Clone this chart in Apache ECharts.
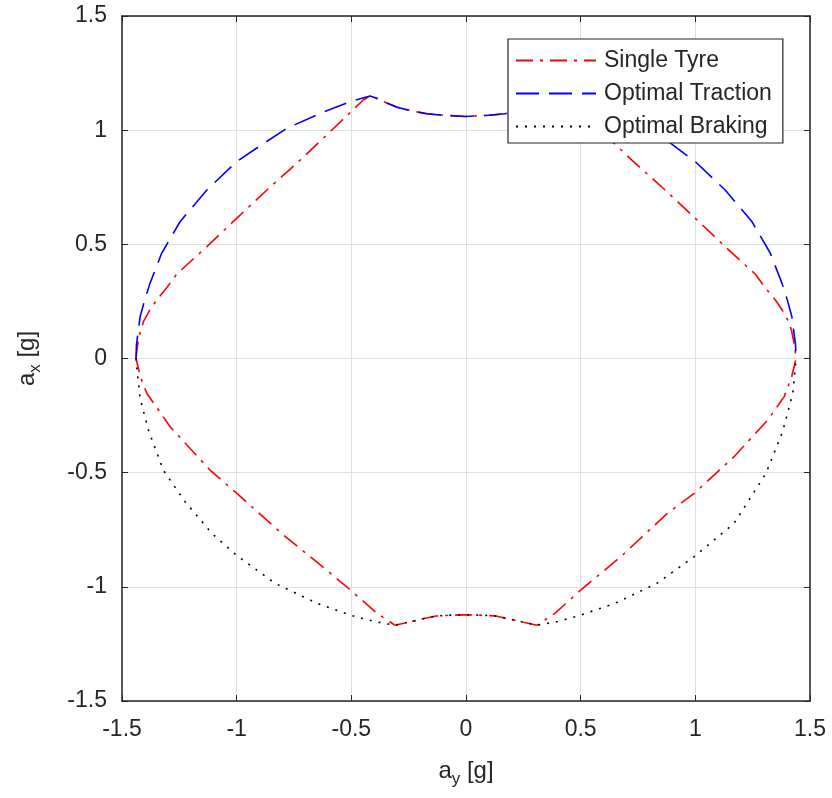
<!DOCTYPE html>
<html>
<head>
<meta charset="utf-8">
<script src="https://cdn.jsdelivr.net/npm/echarts@6/dist/echarts.min.js"></script>
<style>
html,body{margin:0;padding:0;background:#fff;}
#chart{width:832px;height:798px;}
</style>
</head>
<body>
<div id="chart"></div>
<script>
// ---- data (a_y, a_x) in g ----
const seriesNames = ['Single Tyre', 'Optimal Traction', 'Optimal Braking'];

const singleTyre = [
  [-1.439, 0], [-1.432, 0.06], [-1.420, 0.12], [-1.405, 0.165], [-1.380, 0.21], [-1.349, 0.256],
  [-1.305, 0.31], [-1.261, 0.37], [-1.130, 0.49], [-1.000, 0.614], [-0.868, 0.738],
  [-0.723, 0.869], [-0.580, 1.005], [-0.448, 1.132], [-0.418, 1.150],
  [-0.39, 1.14], [-0.36, 1.125], [-0.30, 1.10], [-0.24, 1.085], [-0.17, 1.072], [-0.10, 1.065], [0, 1.06],
  [0.10, 1.065], [0.17, 1.072], [0.24, 1.085], [0.30, 1.10], [0.36, 1.125], [0.39, 1.14],
  [0.418, 1.150], [0.448, 1.132], [0.580, 1.005], [0.723, 0.869], [0.868, 0.738],
  [1.000, 0.614], [1.130, 0.49], [1.261, 0.37], [1.305, 0.31], [1.349, 0.256], [1.380, 0.21],
  [1.405, 0.165], [1.420, 0.12], [1.432, 0.06], [1.439, 0],
  [1.420, -0.08], [1.387, -0.168], [1.315, -0.270], [1.169, -0.430], [0.995, -0.591],
  [0.878, -0.678], [0.675, -0.868], [0.500, -1.014], [0.388, -1.116], [0.31, -1.168],
  [0.25, -1.155], [0.194, -1.142], [0.13, -1.128], [0.068, -1.124], [0, -1.123],
  [-0.068, -1.124], [-0.13, -1.128], [-0.199, -1.142], [-0.25, -1.155], [-0.31, -1.168],
  [-0.388, -1.116], [-0.504, -1.014], [-0.607, -0.927], [-0.796, -0.773], [-0.999, -0.591],
  [-1.116, -0.489], [-1.290, -0.299], [-1.392, -0.152], [-1.420, -0.08], [-1.439, 0]
];

const optimalTraction = [
  [-1.439, 0], [-1.437, 0.06], [-1.421, 0.183], [-1.400, 0.26], [-1.378, 0.329],
  [-1.327, 0.461], [-1.247, 0.599], [-1.130, 0.738], [-1.000, 0.862], [-0.900, 0.93],
  [-0.781, 1.008], [-0.635, 1.074], [-0.504, 1.125], [-0.418, 1.150],
  [-0.39, 1.14], [-0.36, 1.125], [-0.30, 1.10], [-0.24, 1.085], [-0.17, 1.072], [-0.10, 1.065], [0, 1.06],
  [0.10, 1.065], [0.17, 1.072], [0.24, 1.085], [0.30, 1.10], [0.36, 1.125], [0.39, 1.14],
  [0.418, 1.150], [0.504, 1.125], [0.635, 1.074], [0.781, 1.008], [0.893, 0.942],
  [1.000, 0.862], [1.130, 0.738], [1.247, 0.599], [1.327, 0.461], [1.378, 0.329],
  [1.400, 0.26], [1.421, 0.183], [1.437, 0.06], [1.439, 0]
];

const optimalBraking = [
  [-1.439, 0], [-1.436, -0.036], [-1.421, -0.174], [-1.385, -0.313], [-1.320, -0.489],
  [-1.225, -0.627], [-1.108, -0.766], [-0.999, -0.863], [-0.832, -0.985], [-0.650, -1.072],
  [-0.504, -1.124], [-0.40, -1.152], [-0.31, -1.168],
  [-0.25, -1.155], [-0.199, -1.142], [-0.13, -1.128], [-0.068, -1.124], [0, -1.123],
  [0.068, -1.124], [0.13, -1.128], [0.194, -1.142], [0.25, -1.155], [0.31, -1.168],
  [0.40, -1.152], [0.500, -1.124], [0.650, -1.072], [0.832, -0.985], [0.995, -0.868],
  [1.169, -0.722], [1.308, -0.503], [1.381, -0.319], [1.425, -0.152], [1.436, -0.036], [1.439, 0]
];

const axisMin = -1.5, axisMax = 1.5, axisStep = 0.5;

// ---- chart ----
const FONT = '"Liberation Sans", Arial, Helvetica, sans-serif';
const TXT = '#262626';
const chart = echarts.init(document.getElementById('chart'), null, {renderer: 'canvas'});

function valAxis(extra) {
  return Object.assign({
    type: 'value', min: axisMin, max: axisMax, interval: axisStep,
    axisLine: {show: true, onZero: false, lineStyle: {color: TXT, width: 1.5}},
    axisTick: {show: true, inside: true, length: 6, lineStyle: {color: TXT, width: 1}},
    splitLine: {show: false},
    axisLabel: {show: false}
  }, extra);
}

const option = {
  animation: false,
  backgroundColor: '#ffffff',
  textStyle: {fontFamily: FONT},
  grid: {left: 122, right: 22, top: 16, bottom: 97, containLabel: false},
  xAxis: [
    valAxis({
      position: 'bottom',
      splitLine: {show: true, lineStyle: {color: '#dfdfdf', width: 1}},
      axisLabel: {show: true, margin: 17, fontSize: 23, color: TXT, fontFamily: FONT},
      name: '{a|a}{s|y}{a| [g]}',
      nameLocation: 'middle',
      nameGap: 54,
      nameTextStyle: {
        fontFamily: FONT, color: TXT,
        rich: {
          a: {fontSize: 24, fontFamily: FONT, color: TXT},
          s: {fontSize: 17, fontFamily: FONT, color: TXT, padding: [16, 0, 0, 0]}
        }
      }
    }),
    valAxis({position: 'top'})
  ],
  yAxis: [
    valAxis({
      position: 'left',
      splitLine: {show: true, lineStyle: {color: '#dfdfdf', width: 1}},
      axisLabel: {show: true, margin: 15, fontSize: 23, color: TXT, fontFamily: FONT},
      name: '{a|a}{s|x}{a| [g]}',
      nameLocation: 'middle',
      nameRotate: 90,
      nameGap: 78,
      nameTextStyle: {
        fontFamily: FONT, color: TXT,
        rich: {
          a: {fontSize: 24, fontFamily: FONT, color: TXT},
          s: {fontSize: 17, fontFamily: FONT, color: TXT, padding: [16, 0, 0, 0]}
        }
      }
    }),
    valAxis({position: 'right'})
  ],
  legend: {
    show: true,
    orient: 'vertical',
    left: 508, top: 39,
    padding: [10, 11, 5, 7],
    itemGap: 10,
    itemWidth: 80,
    itemHeight: 14,
    backgroundColor: '#ffffff',
    borderColor: TXT,
    borderWidth: 1.2,
    borderRadius: 0,
    selectedMode: false,
    data: seriesNames,
    itemStyle: {color: 'rgba(0,0,0,0)', borderColor: 'rgba(0,0,0,0)', borderWidth: 0},
    textStyle: {fontSize: 23, color: TXT, fontFamily: FONT, padding: [0, 0, 0, 3]}
  },
  series: [
    {
      name: seriesNames[0], type: 'line', data: singleTyre,
      xAxisIndex: 0, yAxisIndex: 0,
      symbol: 'none', showSymbol: false, smooth: false, z: 2,
      lineStyle: {color: '#ff0000', width: 1.6, type: [17, 7, 3, 7], cap: 'butt'},
      itemStyle: {color: '#ff0000'}
    },
    {
      name: seriesNames[1], type: 'line', data: optimalTraction,
      xAxisIndex: 0, yAxisIndex: 0,
      symbol: 'none', showSymbol: false, smooth: false, z: 3,
      lineStyle: {color: '#0000ff', width: 1.6, type: [23, 10], cap: 'butt'},
      itemStyle: {color: '#0000ff'}
    },
    {
      name: seriesNames[2], type: 'line', data: optimalBraking,
      xAxisIndex: 0, yAxisIndex: 0,
      symbol: 'none', showSymbol: false, smooth: false, z: 4,
      lineStyle: {color: '#000000', width: 1.6, type: [2, 7], cap: 'butt'},
      itemStyle: {color: '#000000'}
    }
  ]
};
chart.setOption(option);
</script>
</body>
</html>
